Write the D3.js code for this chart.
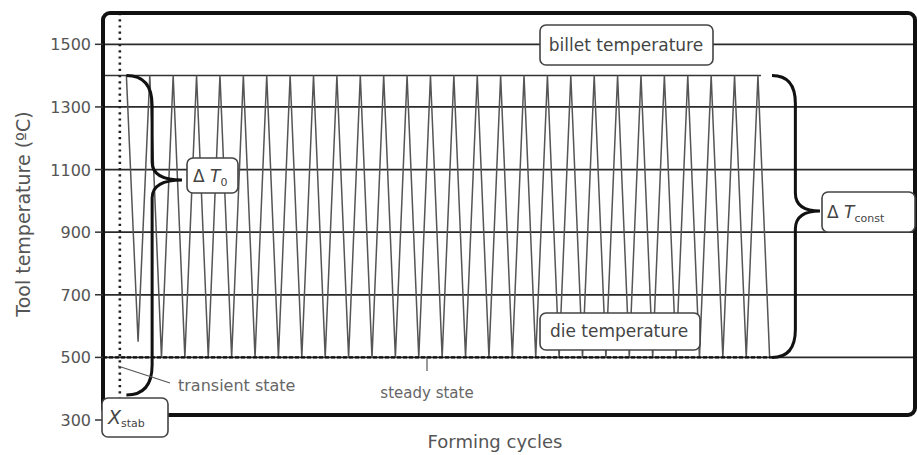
<!DOCTYPE html>
<html>
<head>
<meta charset="utf-8">
<script src="https://cdn.jsdelivr.net/npm/d3@7/dist/d3.min.js"></script>
<style>
  html, body { margin: 0; padding: 0; background: #fff; }
  svg { display: block; }
  text { font-family: "DejaVu Sans", "Liberation Sans", sans-serif; }
</style>
</head>
<body>
<svg id="chart" width="917" height="455"></svg>
<script>
// ---------------- data ----------------
const yTickValues = [300, 500, 700, 900, 1100, 1300, 1500];
const gridTemps = [500, 700, 900, 1100, 1300, 1500];
const peakCycles = [0, 1, 2, 3, 4, 5, 6, 7, 8, 9, 10, 11, 12, 13, 14, 15, 16, 17, 18, 19, 20, 21, 22, 23, 24, 25, 26, 27];
const peakTemps  = [1400, 1400, 1400, 1400, 1400, 1400, 1400, 1400, 1400, 1400, 1400, 1400, 1400, 1400, 1400, 1400, 1400, 1400, 1400, 1400, 1400, 1400, 1400, 1400, 1400, 1400, 1400, 1400];
const troughCycles = [0.5, 1.5, 2.5, 3.5, 4.5, 5.5, 6.5, 7.5, 8.5, 9.5, 10.5, 11.5, 12.5, 13.5, 14.5, 15.5, 16.5, 17.5, 18.5, 19.5, 20.5, 21.5, 22.5, 23.5, 24.5, 25.5, 26.5, 27.5];
const troughTemps  = [550, 500, 500, 500, 500, 500, 500, 500, 500, 500, 500, 500, 500, 500, 500, 500, 500, 500, 500, 500, 500, 500, 500, 500, 500, 500, 500, 500];
const billetTemp = 1500;
const upperTemp = 1400;
const dieTemp = 500;
const initialTemp = 380;
const xStab = -0.28;
const yLabel = "Tool temperature (ºC)";
const xLabel = "Forming cycles";

// ---------------- scales ----------------
const svg = d3.select("#chart");
const x = d3.scaleLinear().domain([-1, 33.8]).range([103, 917]);
const y = d3.scaleLinear().domain([1600, 316]).range([13, 415]);

const frameL = 103, frameR = 915, frameT = y(1600), frameB = y(316);

// gridlines
svg.append("g").selectAll("line").data(gridTemps).join("line")
  .attr("x1", frameL).attr("x2", frameR)
  .attr("y1", d => y(d)).attr("y2", d => y(d))
  .attr("stroke", "#2a2a2a").attr("stroke-width", 1.8);

// upper envelope line (1400)
const lastTrough = troughCycles[troughCycles.length - 1];
const lastPeak = peakCycles[peakCycles.length - 1];
svg.append("line")
  .attr("x1", frameL).attr("x2", x(lastPeak) + 3)
  .attr("y1", y(upperTemp)).attr("y2", y(upperTemp))
  .attr("stroke", "#333").attr("stroke-width", 1.5);

// zigzag
const pts = [];
peakCycles.forEach((c, i) => {
  pts.push([c, peakTemps[i]]);
  pts.push([troughCycles[i], troughTemps[i]]);
});
svg.append("path")
  .attr("d", d3.line().x(d => x(d[0])).y(d => y(d[1]))(pts))
  .attr("fill", "none").attr("stroke", "#555").attr("stroke-width", 1.5);

// dashed die temperature line
svg.append("line")
  .attr("x1", frameL).attr("x2", x(lastTrough) + 3)
  .attr("y1", y(dieTemp)).attr("y2", y(dieTemp))
  .attr("stroke", "#111").attr("stroke-width", 2.2)
  .attr("stroke-dasharray", "4,2");

// dotted X_stab line
svg.append("line")
  .attr("x1", x(xStab)).attr("x2", x(xStab))
  .attr("y1", frameT).attr("y2", 400)
  .attr("stroke", "#222").attr("stroke-width", 2.6)
  .attr("stroke-dasharray", "2.2,4");

// frame
svg.append("rect")
  .attr("x", frameL).attr("y", frameT)
  .attr("width", frameR - frameL).attr("height", frameB - frameT)
  .attr("rx", 7).attr("fill", "none")
  .attr("stroke", "#111").attr("stroke-width", 4);

// y ticks
const yt = svg.append("g");
yt.selectAll("line").data(yTickValues).join("line")
  .attr("x1", 95).attr("x2", frameL)
  .attr("y1", d => y(d)).attr("y2", d => y(d))
  .attr("stroke", "#333").attr("stroke-width", 1.5);
yt.selectAll("text").data(yTickValues).join("text")
  .attr("x", 91).attr("y", d => y(d) + 6)
  .attr("text-anchor", "end").attr("font-size", 16)
  .attr("fill", "#555").text(d => d);

// axis titles
svg.append("text")
  .attr("transform", "translate(30,214) rotate(-90)")
  .attr("text-anchor", "middle").attr("font-size", 19).attr("fill", "#555")
  .text(yLabel);
svg.append("text")
  .attr("x", 495).attr("y", 448)
  .attr("text-anchor", "middle").attr("font-size", 18).attr("fill", "#555")
  .text(xLabel);

// braces
function brace(x0, xv, xt, y0, ym, y1, r, r2) {
  return `M${x0},${y0} Q${xv},${y0} ${xv},${y0 + r} L${xv},${ym - r2} Q${xv},${ym} ${xt},${ym} ` +
         `Q${xv},${ym} ${xv},${ym + r2} L${xv},${y1 - r} Q${xv},${y1} ${x0},${y1}`;
}
svg.append("path")
  .attr("d", brace(x(0), x(1.1), 182, y(upperTemp), 180, y(initialTemp), 30, 18))
  .attr("fill", "none").attr("stroke", "#111").attr("stroke-width", 3);
svg.append("path")
  .attr("d", brace(x(27.6), x(28.6), 820, y(upperTemp), 211, y(dieTemp), 28, 18))
  .attr("fill", "none").attr("stroke", "#111").attr("stroke-width", 3);

// leader lines
svg.append("line").attr("x1", 118).attr("y1", 366).attr("x2", 170).attr("y2", 383)
  .attr("stroke", "#555").attr("stroke-width", 1.2);
svg.append("line").attr("x1", 427).attr("y1", y(dieTemp)).attr("x2", 427).attr("y2", 371)
  .attr("stroke", "#555").attr("stroke-width", 1.2);

svg.append("text").attr("x", 178).attr("y", 391).attr("font-size", 16).attr("fill", "#666")
  .text("transient state");
svg.append("text").attr("x", 427).attr("y", 398).attr("text-anchor", "middle")
  .attr("font-size", 15).attr("fill", "#666").text("steady state");

// boxed labels
function box(x0, y0, w, h) {
  svg.append("rect").attr("x", x0).attr("y", y0).attr("width", w).attr("height", h)
    .attr("rx", 6).attr("fill", "#fff").attr("stroke", "#444").attr("stroke-width", 1.6);
}
box(540, 25, 173, 40);
svg.append("text").attr("x", 626).attr("y", 51).attr("text-anchor", "middle")
  .attr("font-size", 17).attr("fill", "#444").text("billet temperature");

box(540, 313, 160, 37);
svg.append("text").attr("x", 619).attr("y", 337).attr("text-anchor", "middle")
  .attr("font-size", 17).attr("fill", "#444").text("die temperature");

box(187, 158, 51, 35);
const t0 = svg.append("text").attr("x", 193).attr("y", 182).attr("font-size", 17).attr("fill", "#444");
t0.append("tspan").text("Δ ");
t0.append("tspan").attr("font-style", "italic").text("T");
t0.append("tspan").attr("font-size", 11).attr("dy", 4).text("0");

box(822, 192, 93, 40);
const tc = svg.append("text").attr("x", 827).attr("y", 218).attr("font-size", 17).attr("fill", "#444");
tc.append("tspan").text("Δ ");
tc.append("tspan").attr("font-style", "italic").text("T");
tc.append("tspan").attr("font-size", 11).attr("dy", 4).text("const");

box(102, 398, 66, 39);
const xs = svg.append("text").attr("x", 108).attr("y", 424).attr("font-size", 19).attr("fill", "#444");
xs.append("tspan").attr("font-style", "italic").text("X");
xs.append("tspan").attr("font-size", 11).attr("dy", 3).text("stab");
</script>
</body>
</html>
